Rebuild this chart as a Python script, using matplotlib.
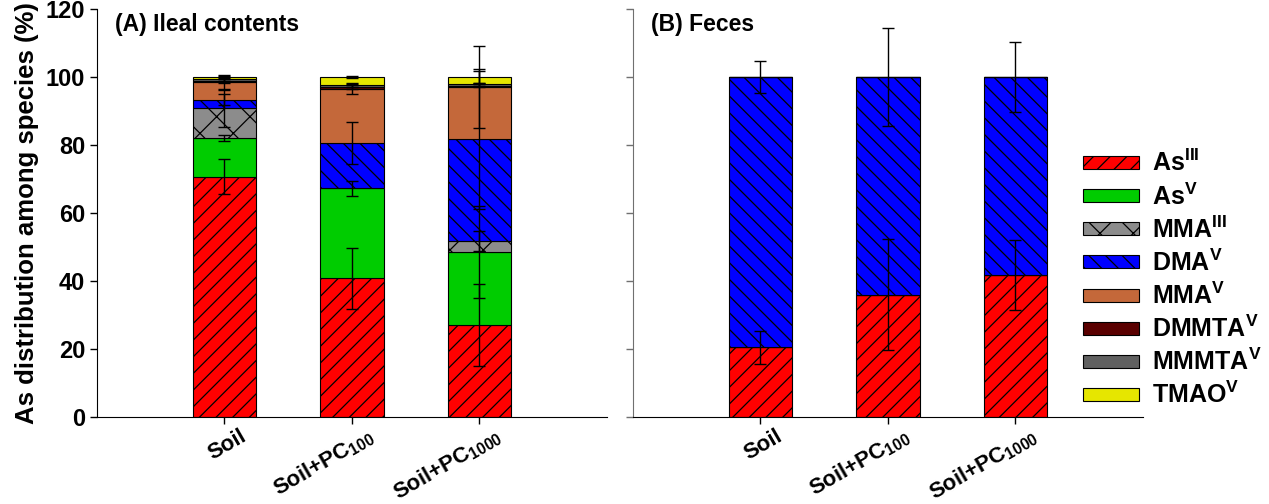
import matplotlib
matplotlib.use('Agg')
import matplotlib.pyplot as plt
import matplotlib.transforms as mtransforms
from matplotlib.patches import Patch
import numpy as np

plt.rcParams['font.family'] = ['Liberation Sans', 'DejaVu Sans']
plt.rcParams['font.weight'] = 'bold'
plt.rcParams['mathtext.fontset'] = 'custom'
plt.rcParams['mathtext.rm'] = 'Liberation Sans:bold'
plt.rcParams['mathtext.it'] = 'Liberation Sans:bold'
plt.rcParams['mathtext.bf'] = 'Liberation Sans:bold'
plt.rcParams['hatch.linewidth'] = 0.9

# data
groups = ['Soil', 'Soil+PC$_{100}$', 'Soil+PC$_{1000}$']
species = ['As$^{III}$', 'As$^{V}$', 'MMA$^{III}$', 'DMA$^{V}$',
           'MMA$^{V}$', 'DMMTA$^{V}$', 'MMMTA$^{V}$', 'TMAO$^{V}$']

# (A) ileal contents, % per species
ileal_asIII = [70.7, 40.8, 27.1]
ileal_asV = [11.3, 26.5, 21.5]
ileal_mmaIII = [9.0, 0.0, 3.2]
ileal_dmaV = [2.3, 13.4, 30.0]
ileal_mmaV = [5.1, 15.8, 15.3]
ileal_dmmtaV = [0.4, 0.6, 0.4]
ileal_mmmtaV = [0.6, 0.5, 0.3]
ileal_tmaoV = [0.6, 2.4, 2.2]

ileal_err_asIII = [5.2, 8.9, 12.0]
ileal_err_asV = [0.8, 2.2, 13.5]
ileal_err_mmaIII = [5.6, 0.0, 3.0]
ileal_err_dmaV = [1.6, 6.2, 20.5]
ileal_err_mmaV = [2.2, 1.5, 12.0]
ileal_err_dmmtaV = [0.5, 0.6, 0.4]
ileal_err_mmmtaV = [0.5, 0.5, 0.3]
ileal_err_tmaoV = [0.3, 0.3, 1.8]

# (B) feces
feces_asIII = [20.5, 36.0, 41.8]
feces_dmaV = [79.5, 64.0, 58.2]
feces_err_asIII = [4.8, 16.3, 10.2]
feces_err_dmaV = [4.8, 14.3, 10.2]

colors = ['#FF0000', '#00CC00', '#8C8C8C', '#0000FF',
          '#C4683A', '#5A0000', '#606060', '#E6E600']
hatches = ['//', None, 'x', '\\\\', None, None, None, None]

ileal = [ileal_asIII, ileal_asV, ileal_mmaIII, ileal_dmaV,
         ileal_mmaV, ileal_dmmtaV, ileal_mmmtaV, ileal_tmaoV]
ileal_err = [ileal_err_asIII, ileal_err_asV, ileal_err_mmaIII, ileal_err_dmaV,
             ileal_err_mmaV, ileal_err_dmmtaV, ileal_err_mmmtaV, ileal_err_tmaoV]
zeros = [0.0, 0.0, 0.0]
feces = [feces_asIII, zeros, zeros, feces_dmaV, zeros, zeros, zeros, zeros]
feces_err = [feces_err_asIII, zeros, zeros, feces_err_dmaV, zeros, zeros, zeros, zeros]


def stacked(ax, vals, errs):
    x = np.arange(1, len(groups) + 1)
    bottom = np.zeros(len(groups))
    tops = []
    for v, c, h in zip(vals, colors, hatches):
        v = np.array(v)
        ax.bar(x, v, 0.5, bottom=bottom, color=c, hatch=h,
               edgecolor='black', linewidth=0.8, zorder=2)
        bottom = bottom + v
        tops.append(bottom.copy())
    for v, e, t in zip(vals, errs, tops):
        for i in range(len(x)):
            if v[i] > 0:
                ax.errorbar(x[i], t[i], yerr=e[i], fmt='none', ecolor='black',
                            elinewidth=1, capsize=4, capthick=1, zorder=3)
    ax.set_xlim(0, 4)
    ax.set_ylim(0, 120)
    ax.set_yticks(np.arange(0, 121, 20))
    ax.set_xticks(x)
    ax.spines['top'].set_visible(False)
    ax.spines['right'].set_visible(False)
    ax.tick_params(direction='out', length=5, width=1)
    ax.set_xticklabels(groups, rotation=30, ha='right', va='center',
                       rotation_mode='anchor', fontsize=16, fontweight='bold')
    off = mtransforms.ScaledTranslation(20 / 100, -6 / 100, ax.figure.dpi_scale_trans)
    for lab in ax.get_xticklabels():
        lab.set_transform(lab.get_transform() + off)


fig = plt.figure(figsize=(12.69, 5.04), dpi=100)
ax1 = fig.add_axes([0.0764, 0.1726, 0.4019, 0.8095])
ax2 = fig.add_axes([0.4988, 0.1726, 0.4019, 0.8095])

stacked(ax1, ileal, ileal_err)
stacked(ax2, feces, feces_err)

ax1.tick_params(axis='y', labelsize=17)
for lab in ax1.get_yticklabels():
    lab.set_fontweight('bold')
ax1.set_ylabel('As distribution among species (%)', fontsize=18.5, fontweight='bold', labelpad=5)
ax2.set_yticklabels([])
ax2.spines['left'].set_color('#707070')
ax2.tick_params(axis='y', color='#707070')

ax1.text(0.035, 0.99, '(A) Ileal contents', transform=ax1.transAxes,
         fontsize=16.5, fontweight='bold', va='top', ha='left')
ax2.text(0.035, 0.99, '(B) Feces', transform=ax2.transAxes,
         fontsize=16.5, fontweight='bold', va='top', ha='left')

handles = [Patch(facecolor=c, edgecolor='black', hatch=h, linewidth=0.8)
           for c, h in zip(colors, hatches)]
fig.legend(handles, species, loc='upper left', bbox_to_anchor=(1083 / 1269, 1 - 150 / 504),
           frameon=False, fontsize=18, handlelength=2.25, handleheight=0.42,
           handletextpad=0.5, labelspacing=0.27, borderpad=0, borderaxespad=0)

fig.savefig('out.png', dpi=100)
